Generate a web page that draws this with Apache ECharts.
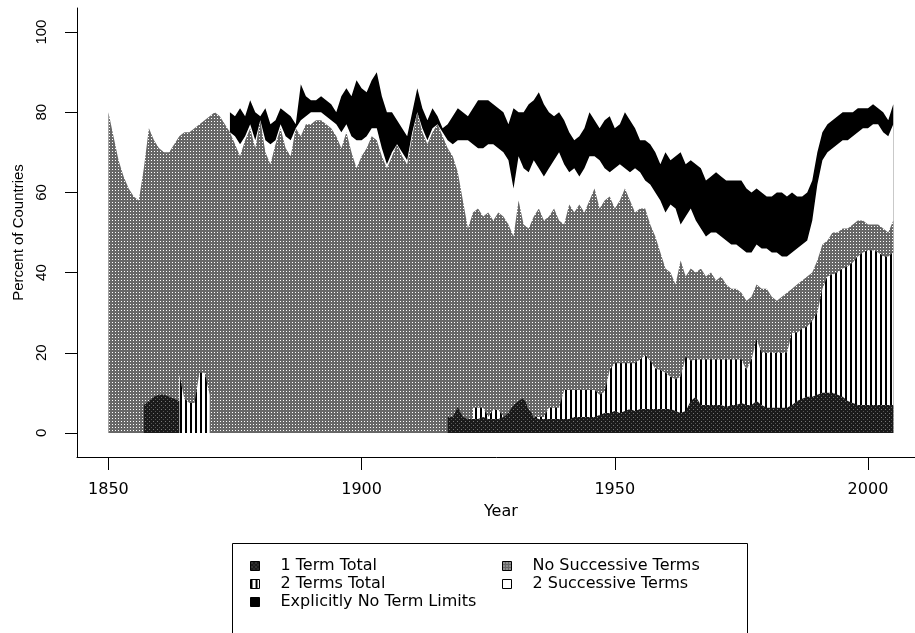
<!DOCTYPE html>
<html><head><meta charset="utf-8">
<script src="https://cdn.jsdelivr.net/npm/echarts@6/dist/echarts.min.js"></script>
<style>html,body{margin:0;padding:0;background:#fff}#c{width:915px;height:633px}</style>
</head><body><div id="c"></div>
<script>
// ---- data: top edge (percent of countries) of each overlapping layer, read per year ----
const xTicks = [1850, 1900, 1950, 2000];
const yTicks = [0, 20, 40, 60, 80, 100];

// 1 Term Total (dark layer)
const oneTermEarlyStart = 1857;
const oneTermEarly = [7, 8, 9, 9.5, 9.5, 9, 8.5, 8];
const oneTermLateStart = 1917;
const oneTermLate = [4, 4, 6.5,
  4, 3.5, 3.5, 3.5, 4, 3.5, 3.5, 3.5, 4, 5,
  7, 8, 8.7, 6, 4, 3.5, 3.5, 3.5, 3.5, 3.5,
  3.5, 3.5, 4, 4, 4, 4, 4, 4.5, 5, 5,
  5.5, 5, 5.5, 6, 5.5, 6, 6, 6, 6, 6,
  6, 6, 5.5, 5, 5.5, 8, 9, 7, 7, 7,
  7, 7, 6.5, 7, 7, 7.5, 7, 7, 8, 7,
  6.3, 6.3, 6.3, 6.3, 6.3, 7, 8, 8.5, 9, 9,
  9.5, 10, 10, 10, 9.5, 9, 8, 7.5, 7, 7,
  7, 7, 7, 7, 7, 7];

// 2 Terms Total (striped layer)
const twoTermsEarlyStart = 1864;
const twoTermsEarly = [14.5, 8.5, 7.5, 7.5, 15, 15, 9.5];
const twoTermsLateStart = 1922;
const twoTermsLate = [6.3, 6.3, 6.3, 4, 5.8, 5.8, 4, 4,
  5, 7, 8.7, 6, 4, 4, 4, 6.3, 6.3, 6.3,
  10.7, 10.7, 10.7, 10.7, 10.7, 10.7, 10.7, 9.5, 10.3, 15.7,
  17.4, 17.4, 17.4, 17.4, 17.4, 18.3, 19.4, 18, 16, 15.7,
  15, 14, 13.4, 14, 19, 18, 18.3, 18.3, 18.3, 18.3,
  18.3, 18.3, 18.3, 18.3, 18.3, 18.3, 15.7, 18.3, 23.4, 20,
  20, 20, 20, 20, 20, 25, 25, 26, 26.5, 28,
  30, 36, 39, 39.5, 40, 41, 41.5, 42.5, 44, 45,
  45.5, 45.6, 45, 44, 44, 45];

// No Successive Terms (grey layer)
const noSuccStart = 1850;
const noSuccTop = [80, 74, 68, 64, 61, 59, 58, 66, 76, 73,
  71, 70, 70, 72, 74, 75, 75, 76, 77, 78,
  79, 80, 79, 77, 75, 72, 69, 73, 76, 71,
  78, 70, 67, 72, 76, 71, 69, 76, 74, 77,
  77, 78, 78, 77, 76, 74, 71, 75, 70, 66,
  69, 71, 74, 73, 69, 66, 69, 72, 69, 67,
  74, 80, 75, 72, 75, 77, 74, 71, 69, 65,
  58, 51, 55, 56, 54, 55, 53, 55, 54, 52,
  49, 58, 52, 51, 54, 56, 53, 54, 56, 53,
  52, 57, 55, 57, 55, 58, 61, 56, 58, 59,
  56, 58, 61, 58, 55, 56, 56, 52, 49, 45,
  41, 40, 37, 43, 39, 41, 40, 41, 39, 40,
  38, 39, 37, 36, 36, 35, 33, 34, 37, 36,
  36, 34, 33, 34, 35, 36, 37, 38, 39, 40,
  43, 47, 48, 50, 50, 51, 51, 52, 53, 53,
  52, 52, 52, 51, 50, 53];

// 2 Successive Terms (white layer)
const twoSuccStart = 1874;
const twoSuccTop = [75, 74, 72, 74, 77, 73,
  78, 73, 72, 73, 77, 74, 73, 76, 78, 79,
  80, 80, 80, 79, 78, 77, 75, 77, 74, 73,
  73, 74, 76, 76, 71, 67, 70, 72, 70, 68,
  75, 80, 76, 73, 76, 77, 75, 73, 72, 73,
  73, 73, 72, 71, 71, 72, 72, 71, 70, 68,
  61, 69, 66, 65, 68, 66, 64, 66, 68, 70,
  67, 65, 66, 64, 66, 69, 69, 68, 66, 65,
  66, 67, 66, 65, 66, 65, 63, 62, 60, 58,
  55, 57, 56, 52, 54, 56, 53, 51, 49, 50,
  50, 49, 48, 47, 47, 46, 45, 45, 47, 46,
  46, 45, 45, 44, 44, 45, 46, 47, 48, 53,
  62, 68, 70, 71, 72, 73, 73, 74, 75, 76,
  76, 77, 77, 75, 74, 77];

// Explicitly No Term Limits (black layer)
const noLimitsStart = 1874;
const noLimitsTop = [80, 79, 81, 79, 83, 80,
  79, 81, 77, 78, 81, 80, 79, 77, 87, 84,
  83, 83, 84, 83, 82, 80, 84, 86, 84, 88,
  86, 85, 88, 90, 84, 80, 80, 78, 76, 74,
  80, 86, 81, 78, 81, 79, 76, 77, 79, 81,
  80, 79, 81, 83, 83, 83, 82, 81, 80, 77,
  81, 80, 80, 82, 83, 85, 82, 80, 79, 80,
  78, 75, 73, 74, 76, 80, 78, 76, 78, 79,
  76, 77, 80, 78, 76, 73, 73, 72, 70, 67,
  70, 68, 69, 70, 67, 68, 67, 66, 63, 64,
  65, 64, 63, 63, 63, 63, 61, 60, 61, 60,
  59, 59, 60, 60, 59, 60, 59, 59, 60, 63,
  70, 75, 77, 78, 79, 80, 80, 80, 81, 81,
  81, 82, 81, 80, 78, 82];

// ---- fill patterns ----
function makePattern(w, h, draw) {
  const c = document.createElement('canvas');
  c.width = w; c.height = h;
  const g = c.getContext('2d');
  draw(g);
  return { image: c, repeat: 'repeat' };
}
const greyPat = makePattern(3, 3, g => {
  g.fillStyle = '#676767'; g.fillRect(0, 0, 3, 3);
  g.fillStyle = '#ffffff'; g.fillRect(1, 1, 1, 1);
});
const darkPat = makePattern(4, 4, g => {
  g.fillStyle = '#1a1a1a'; g.fillRect(0, 0, 4, 4);
  g.fillStyle = '#777777'; g.fillRect(1, 1, 1, 1);
  g.fillStyle = '#555555'; g.fillRect(3, 3, 1, 1);
});
const stripePat = makePattern(5, 2, g => {
  g.fillStyle = '#ffffff'; g.fillRect(0, 0, 5, 2);
  g.fillStyle = '#000000'; g.fillRect(0, 0, 2, 2);
});

function pairs(start, vals) { return vals.map((v, i) => [start + i, v]); }

function layer(name, start, vals, fill) {
  return {
    type: 'line', name: name, data: pairs(start, vals),
    showSymbol: false, symbol: 'none', silent: true, animation: false,
    lineStyle: { width: 0 },
    itemStyle: { color: fill },
    areaStyle: { color: fill, opacity: 1, origin: 0 },
    emphasis: { disabled: true }
  };
}

const font = 'DejaVu Sans';
const txt = { fontFamily: font, fontSize: 16, color: '#000' };

const legendBase = {
  orient: 'vertical', top: 557, padding: 0, itemGap: 0,
  itemWidth: 9, itemHeight: 9, icon: 'rect', selectedMode: false,
  textStyle: { fontFamily: font, fontSize: 16, color: '#000', lineHeight: 18, padding: [0, 0, 0, 16] }
};
const border = { borderColor: '#000', borderWidth: 1 };

const chart = echarts.init(document.getElementById('c'), null, { renderer: 'canvas' });
chart.setOption({
  animation: false,
  backgroundColor: '#fff',
  grid: { left: 77, right: -9.7, top: 8, bottom: 176, containLabel: false, outerBoundsMode: 'none' },
  xAxis: {
    type: 'value', min: 1843.8, max: 2011.2,
    axisLine: { show: true, onZero: false, lineStyle: { color: '#000', width: 1 } },
    axisTick: { show: true, length: 13, customValues: xTicks, lineStyle: { color: '#000', width: 1 } },
    axisLabel: { customValues: xTicks, margin: 25, fontFamily: font, fontSize: 16, color: '#000',
      formatter: v => String(v) },
    splitLine: { show: false },
    name: 'Year', nameLocation: 'middle', nameGap: 47, nameTextStyle: txt
  },
  yAxis: {
    type: 'value', min: -6, max: 106,
    axisLine: { show: true, onZero: false, lineStyle: { color: '#000', width: 1 } },
    axisTick: { show: true, length: 12, customValues: yTicks, lineStyle: { color: '#000', width: 1 } },
    axisLabel: { customValues: yTicks, rotate: 90, margin: 28, fontFamily: 'Liberation Sans', fontSize: 15, color: '#000',
      formatter: v => String(v) },
    splitLine: { show: false },
    name: 'Percent of Countries', nameLocation: 'middle', nameGap: 46, nameRotate: 90,
    nameTextStyle: { fontFamily: 'Liberation Sans', fontSize: 15, color: '#000' }
  },
  legend: [
    Object.assign({}, legendBase, {
      left: 250,
      data: [
        { name: '1 Term Total', itemStyle: Object.assign({ color: darkPat }, border) },
        { name: '2 Terms Total', itemStyle: Object.assign({ color: stripePat }, border) },
        { name: 'Explicitly No Term Limits', itemStyle: Object.assign({ color: '#000' }, border) }
      ]
    }),
    Object.assign({}, legendBase, {
      left: 502,
      data: [
        { name: 'No Successive Terms', itemStyle: Object.assign({ color: greyPat }, border) },
        { name: '2 Successive Terms', itemStyle: Object.assign({ color: '#fff' }, border) }
      ]
    })
  ],
  graphic: [{
    type: 'rect', silent: true, z: -1,
    shape: { x: 232.5, y: 543.5, width: 515, height: 200 },
    style: { fill: 'transparent', stroke: '#000', lineWidth: 1 }
  }],
  series: [
    layer('Explicitly No Term Limits', noLimitsStart, noLimitsTop, '#000'),
    layer('2 Successive Terms', twoSuccStart, twoSuccTop, '#fff'),
    layer('No Successive Terms', noSuccStart, noSuccTop, greyPat),
    layer('2 Terms Total', twoTermsEarlyStart, twoTermsEarly, stripePat),
    layer('2 Terms Total', twoTermsLateStart, twoTermsLate, stripePat),
    layer('1 Term Total', oneTermEarlyStart, oneTermEarly, darkPat),
    layer('1 Term Total', oneTermLateStart, oneTermLate, darkPat)
  ]
});
</script></body></html>
